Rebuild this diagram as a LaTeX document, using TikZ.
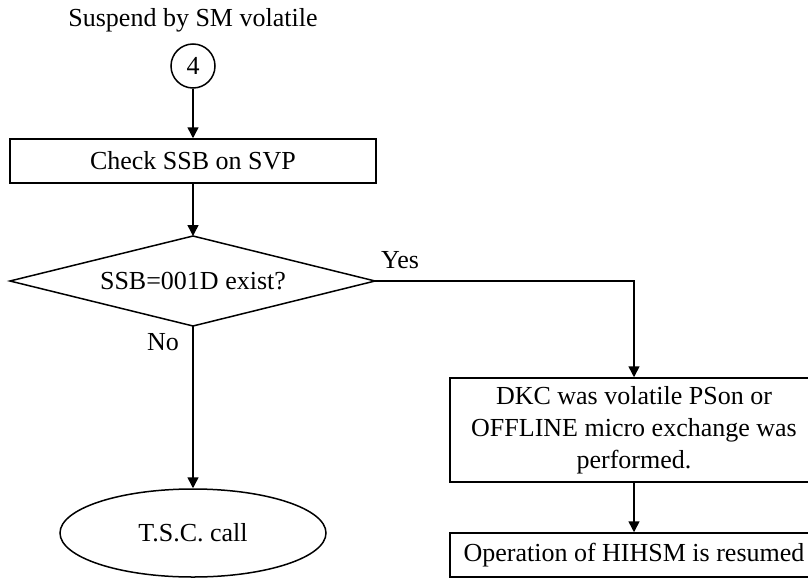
\documentclass[tikz,border=0pt]{standalone}
\usepackage{fontspec}
\setmainfont{Liberation Serif}
\usetikzlibrary{shapes.geometric,arrows.meta}
\begin{document}
\begin{tikzpicture}[x=0.5pt,y=-0.5pt,
  every node/.style={font=\fontsize{13}{16}\selectfont},
  box/.style={draw,line width=0.75pt,rectangle,inner sep=0pt,align=center},
  conn/.style={line width=0.75pt,-{Triangle[length=5.5pt,width=5.5pt]}},
  shapeline/.style={line width=0.75pt}]
\clip (0,0) rectangle (808,578);
\node (title) at (193,20) {Suspend by SM volatile};
\node[draw,line width=0.75pt,circle,minimum size=22pt,inner sep=0pt] (c4) at (193,66) {4};
\node[box,minimum width=183pt,minimum height=22pt] (chk) at (193,161) {Check SSB on SVP};
\coordinate (dtop) at (193,236);
\coordinate (dbot) at (193,326);
\coordinate (dleft) at (10,281);
\coordinate (dright) at (375,281);
\draw[shapeline] (dtop) -- (dright) -- (dbot) -- (dleft) -- cycle;
\node (dec) at (193,281) {SSB=001D exist?};
\node[box,minimum width=184pt,minimum height=52pt] (dkc) at (634,430) {DKC was volatile PSon or\\OFFLINE micro exchange was\\performed.};
\node[box,minimum width=184pt,minimum height=22pt] (op) at (634,555) {Operation of HIHSM is resumed};
\node[draw,line width=0.75pt,ellipse,minimum width=133pt,minimum height=44pt,inner sep=0pt] (tsc) at (193,533) {T.S.C. call};
\node (yes) at (400,260) {Yes};
\node (no) at (163,342) {No};
\draw[conn] (c4) -- (chk);
\draw[conn] (chk) -- (dtop);
\draw[conn] (dright) -| (dkc.north);
\draw[conn] (dbot) -- (tsc.north);
\draw[conn] (dkc) -- (op);
\end{tikzpicture}
\end{document}
